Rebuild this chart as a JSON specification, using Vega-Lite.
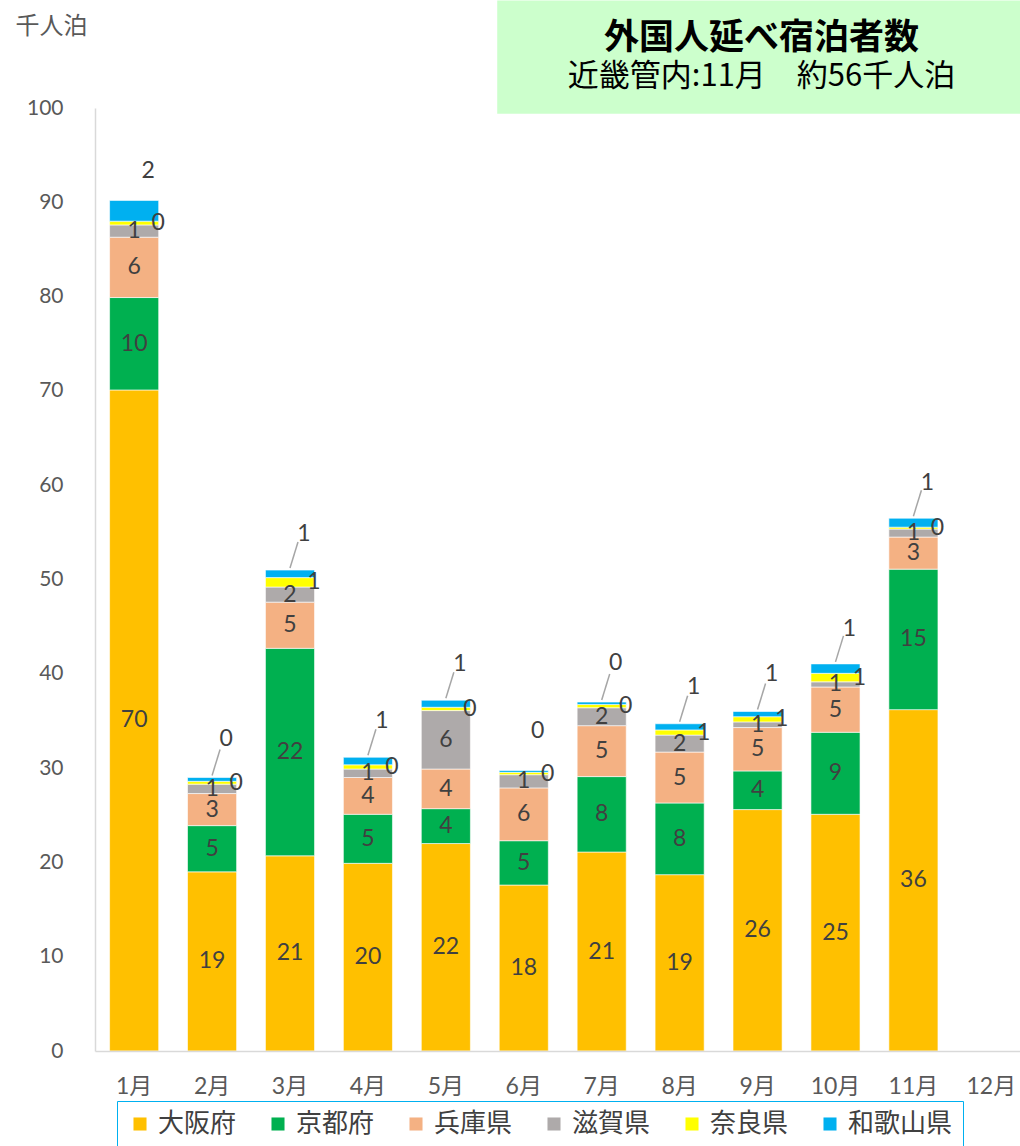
{
  "$schema": "https://vega.github.io/schema/vega-lite/v6.json",
  "width": 925,
  "height": 943,
  "padding": {"left": 15, "top": 0, "right": 0, "bottom": 0},
  "background": "white",
  "config": {"view": {"stroke": null}, "font": "Lato, Noto Sans CJK JP"},
  "data": {"values": [
    {"month": "1月", "category": "大阪府", "rank": 1, "value": 70.1},
    {"month": "1月", "category": "京都府", "rank": 2, "value": 9.8},
    {"month": "1月", "category": "兵庫県", "rank": 3, "value": 6.4},
    {"month": "1月", "category": "滋賀県", "rank": 4, "value": 1.3},
    {"month": "1月", "category": "奈良県", "rank": 5, "value": 0.4},
    {"month": "1月", "category": "和歌山県", "rank": 6, "value": 2.2},
    {"month": "2月", "category": "大阪府", "rank": 1, "value": 19.0},
    {"month": "2月", "category": "京都府", "rank": 2, "value": 4.9},
    {"month": "2月", "category": "兵庫県", "rank": 3, "value": 3.4},
    {"month": "2月", "category": "滋賀県", "rank": 4, "value": 1.0},
    {"month": "2月", "category": "奈良県", "rank": 5, "value": 0.3},
    {"month": "2月", "category": "和歌山県", "rank": 6, "value": 0.4},
    {"month": "3月", "category": "大阪府", "rank": 1, "value": 20.7},
    {"month": "3月", "category": "京都府", "rank": 2, "value": 22.0},
    {"month": "3月", "category": "兵庫県", "rank": 3, "value": 4.9},
    {"month": "3月", "category": "滋賀県", "rank": 4, "value": 1.6},
    {"month": "3月", "category": "奈良県", "rank": 5, "value": 1.0},
    {"month": "3月", "category": "和歌山県", "rank": 6, "value": 0.8},
    {"month": "4月", "category": "大阪府", "rank": 1, "value": 19.9},
    {"month": "4月", "category": "京都府", "rank": 2, "value": 5.2},
    {"month": "4月", "category": "兵庫県", "rank": 3, "value": 3.9},
    {"month": "4月", "category": "滋賀県", "rank": 4, "value": 0.9},
    {"month": "4月", "category": "奈良県", "rank": 5, "value": 0.45},
    {"month": "4月", "category": "和歌山県", "rank": 6, "value": 0.8},
    {"month": "5月", "category": "大阪府", "rank": 1, "value": 22.0},
    {"month": "5月", "category": "京都府", "rank": 2, "value": 3.7},
    {"month": "5月", "category": "兵庫県", "rank": 3, "value": 4.2},
    {"month": "5月", "category": "滋賀県", "rank": 4, "value": 6.2},
    {"month": "5月", "category": "奈良県", "rank": 5, "value": 0.35},
    {"month": "5月", "category": "和歌山県", "rank": 6, "value": 0.75},
    {"month": "6月", "category": "大阪府", "rank": 1, "value": 17.6},
    {"month": "6月", "category": "京都府", "rank": 2, "value": 4.7},
    {"month": "6月", "category": "兵庫県", "rank": 3, "value": 5.6},
    {"month": "6月", "category": "滋賀県", "rank": 4, "value": 1.4},
    {"month": "6月", "category": "奈良県", "rank": 5, "value": 0.25},
    {"month": "6月", "category": "和歌山県", "rank": 6, "value": 0.2},
    {"month": "7月", "category": "大阪府", "rank": 1, "value": 21.1},
    {"month": "7月", "category": "京都府", "rank": 2, "value": 8.0},
    {"month": "7月", "category": "兵庫県", "rank": 3, "value": 5.4},
    {"month": "7月", "category": "滋賀県", "rank": 4, "value": 1.9},
    {"month": "7月", "category": "奈良県", "rank": 5, "value": 0.35},
    {"month": "7月", "category": "和歌山県", "rank": 6, "value": 0.25},
    {"month": "8月", "category": "大阪府", "rank": 1, "value": 18.7},
    {"month": "8月", "category": "京都府", "rank": 2, "value": 7.6},
    {"month": "8月", "category": "兵庫県", "rank": 3, "value": 5.4},
    {"month": "8月", "category": "滋賀県", "rank": 4, "value": 1.8},
    {"month": "8月", "category": "奈良県", "rank": 5, "value": 0.55},
    {"month": "8月", "category": "和歌山県", "rank": 6, "value": 0.65},
    {"month": "9月", "category": "大阪府", "rank": 1, "value": 25.6},
    {"month": "9月", "category": "京都府", "rank": 2, "value": 4.1},
    {"month": "9月", "category": "兵庫県", "rank": 3, "value": 4.6},
    {"month": "9月", "category": "滋賀県", "rank": 4, "value": 0.6},
    {"month": "9月", "category": "奈良県", "rank": 5, "value": 0.55},
    {"month": "9月", "category": "和歌山県", "rank": 6, "value": 0.55},
    {"month": "10月", "category": "大阪府", "rank": 1, "value": 25.1},
    {"month": "10月", "category": "京都府", "rank": 2, "value": 8.7},
    {"month": "10月", "category": "兵庫県", "rank": 3, "value": 4.8},
    {"month": "10月", "category": "滋賀県", "rank": 4, "value": 0.55},
    {"month": "10月", "category": "奈良県", "rank": 5, "value": 0.9},
    {"month": "10月", "category": "和歌山県", "rank": 6, "value": 1.0},
    {"month": "11月", "category": "大阪府", "rank": 1, "value": 36.2},
    {"month": "11月", "category": "京都府", "rank": 2, "value": 14.9},
    {"month": "11月", "category": "兵庫県", "rank": 3, "value": 3.4},
    {"month": "11月", "category": "滋賀県", "rank": 4, "value": 0.85},
    {"month": "11月", "category": "奈良県", "rank": 5, "value": 0.2},
    {"month": "11月", "category": "和歌山県", "rank": 6, "value": 0.95}
  ]},
  "layer": [
    {
      "data": {"values": [{}]},
      "mark": {"type": "rect", "color": "#CCFFCC", "x2Offset": 10, "xOffset": -2},
      "encoding": {
        "x": {"datum": "6月", "bandPosition": 0},
        "x2": {"datum": "12月", "bandPosition": 1},
        "y": {"datum": 99.4},
        "y2": {"datum": 111.4}
      }
    },
    {
      "mark": {"type": "bar", "stroke": "white", "strokeWidth": 0.6},
      "encoding": {
        "x": {
          "field": "month", "type": "ordinal",
          "scale": {"domain": ["1月","2月","3月","4月","5月","6月","7月","8月","9月","10月","11月","12月"], "paddingInner": 0.37, "paddingOuter": 0.12, "align": 0.78},
          "axis": {"title": null, "labelAngle": 0, "labelAlign": "center", "labelBaseline": "middle", "labelFontSize": 23, "labelColor": "#595959", "ticks": false, "labelPadding": 35, "domainColor": "#D9D9D9", "domainWidth": 1.5}
        },
        "y": {
          "field": "value", "type": "quantitative", "stack": "zero",
          "scale": {"domain": [0, 100], "nice": false},
          "axis": {"values": [0,10,20,30,40,50,60,70,80,90,100], "title": "千人泊", "titleAngle": 0, "titleX": -80, "titleY": -82, "titleAlign": "left", "titleBaseline": "middle", "titleFontSize": 24, "titleFontWeight": "normal", "titleColor": "#595959", "titleFont": "Noto Sans CJK JP", "labelFontSize": 21, "labelColor": "#595959", "labelPadding": 32, "ticks": false, "grid": false, "domainColor": "#D9D9D9", "domainWidth": 1.5}
        },
        "color": {
          "field": "category", "type": "nominal",
          "scale": {"domain": ["大阪府","京都府","兵庫県","滋賀県","奈良県","和歌山県"], "range": ["#FFC000","#00B050","#F4B183","#AEAAAA","#FFFF00","#00B0F0"]},
          "legend": {"orient": "none", "legendX": 22, "legendY": 993, "direction": "horizontal", "title": null, "strokeColor": "#00B0F0", "padding": 10, "symbolType": "square", "symbolSize": 170, "symbolStrokeWidth": 0, "labelFontSize": 26, "labelFont": "Noto Sans CJK JP", "labelColor": "#404040", "columnPadding": 28, "labelOffset": 5}
        },
        "order": {"field": "rank", "type": "quantitative"}
      }
    },
    {
      "transform": [
        {"aggregate": [{"op": "sum", "field": "value", "as": "total"}], "groupby": ["month"]},
        {"filter": "datum.month !== '1月' && datum.month !== '6月'"}
      ],
      "mark": {"type": "rule", "color": "#A6A6A6", "strokeWidth": 1.5, "yOffset": -2, "y2Offset": -28, "x2Offset": 8},
      "encoding": {
        "x": {"field": "month", "type": "ordinal"},
        "x2": {"field": "month"},
        "y": {"field": "total", "type": "quantitative"},
        "y2": {"field": "total"}
      }
    },
    {
      "mark": {"type": "text", "fontSize": 23, "color": "#404040"},
      "encoding": {
        "x": {"field": "month", "type": "ordinal"},
        "y": {"field": "value", "type": "quantitative", "stack": "zero", "bandPosition": 0.5},
        "detail": {"field": "category"},
        "order": {"field": "rank", "type": "quantitative"},
        "text": {"condition": {"test": "datum.category === '奈良県' || datum.category === '和歌山県'", "value": ""}, "field": "value", "type": "quantitative", "format": ".0f"}
      }
    },
    {
      "mark": {"type": "text", "fontSize": 23, "color": "#404040", "dx": 24},
      "encoding": {
        "x": {"field": "month", "type": "ordinal"},
        "y": {"field": "value", "type": "quantitative", "stack": "zero", "bandPosition": 0.5},
        "detail": {"field": "category"},
        "order": {"field": "rank", "type": "quantitative"},
        "text": {"condition": {"test": "datum.category === '奈良県'", "field": "value", "type": "quantitative", "format": ".0f"}, "value": ""}
      }
    },
    {
      "mark": {"type": "text", "fontSize": 23, "color": "#404040", "dx": 14, "dy": -40},
      "encoding": {
        "x": {"field": "month", "type": "ordinal"},
        "y": {"field": "value", "type": "quantitative", "stack": "zero", "bandPosition": 0.5},
        "detail": {"field": "category"},
        "order": {"field": "rank", "type": "quantitative"},
        "text": {"condition": {"test": "datum.category === '和歌山県'", "field": "value", "type": "quantitative", "format": ".0f"}, "value": ""}
      }
    },
    {
      "data": {"values": [{}]},
      "mark": {"type": "text", "fontSize": 35, "fontWeight": "bold", "font": "Noto Sans CJK JP", "color": "#000000", "dx": 4},
      "encoding": {
        "x": {"datum": "9月"},
        "y": {"datum": 107.4},
        "text": {"value": "外国人延べ宿泊者数"}
      }
    },
    {
      "data": {"values": [{}]},
      "mark": {"type": "text", "fontSize": 31, "font": "Noto Sans CJK JP", "color": "#000000", "dx": 4},
      "encoding": {
        "x": {"datum": "9月"},
        "y": {"datum": 103.3},
        "text": {"value": "近畿管内:11月　約56千人泊"}
      }
    }
  ]
}
